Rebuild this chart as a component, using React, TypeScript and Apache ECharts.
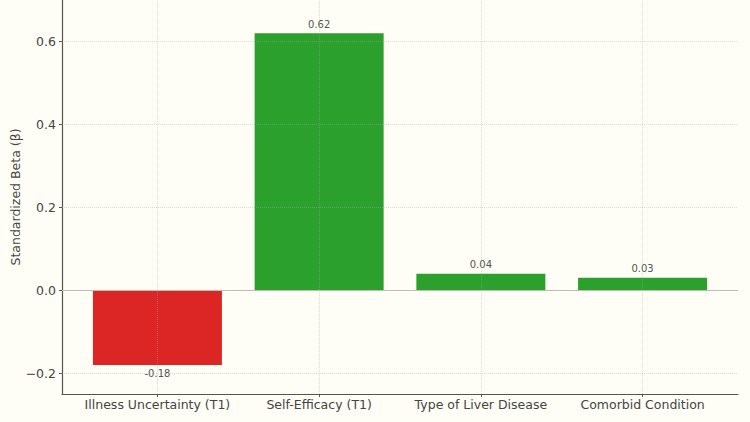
import React, { useEffect, useRef } from "react";
import * as echarts from "echarts";

const categories = [
  "Illness Uncertainty (T1)",
  "Self-Efficacy (T1)",
  "Type of Liver Disease",
  "Comorbid Condition",
];
const betas = [-0.18, 0.62, 0.04, 0.03];
const yTicks = [-0.2, 0, 0.2, 0.4, 0.6];
const xTicks = [0, 1, 2, 3];

const RED = "#dc2626";
const GREEN = "#2ca02c";

export default function App() {
  const ref = useRef<HTMLDivElement>(null);
  useEffect(() => {
    document.body.style.margin = "0";
    if (!ref.current) return;
    const chart = echarts.init(ref.current, null, { renderer: "svg" });
    const font = "DejaVu Sans";
    const gridLine = { type: "dotted", color: "#a8a8a8", width: 1, opacity: 0.4 };
    chart.setOption({
      animation: false,
      backgroundColor: "#fffef6",
      textStyle: { fontFamily: font },
      grid: { left: 62, right: 12, top: 0, bottom: 28, containLabel: false, outerBoundsMode: "none" },
      xAxis: {
        type: "value",
        min: -0.59,
        max: 3.59,
        axisLine: { show: true, onZero: false, lineStyle: { color: "#555", width: 1.2 } },
        axisTick: { show: true, customValues: xTicks, length: 3, lineStyle: { color: "#555" } },
        axisLabel: {
          customValues: xTicks,
          formatter: (v: number) => categories[Math.round(v)] ?? "",
          color: "#444",
          fontSize: 12.5,
          fontFamily: font,
          margin: 4,
        },
        splitLine: { show: false },
      },
      yAxis: {
        type: "value",
        min: -0.25,
        max: 0.7,
        name: "Standardized Beta (β)",
        nameLocation: "middle",
        nameGap: 40,
        nameMoveOverlap: false,
        nameTextStyle: { color: "#444", fontSize: 12.5, fontFamily: font },
        axisLine: { show: true, onZero: false, lineStyle: { color: "#555", width: 1.2 } },
        axisTick: { show: true, customValues: yTicks, length: 3, lineStyle: { color: "#555" } },
        axisLabel: {
          customValues: yTicks,
          formatter: (v: number) =>
            v < 0 ? "\u2212" + Math.abs(v).toFixed(1) : v.toFixed(1),
          color: "#444",
          fontSize: 12.5,
          fontFamily: font,
          margin: 6,
        },
        splitLine: { show: false },
      },
      series: [
        {
          type: "bar",
          barWidth: 129,
          data: betas.map((v, i) => ({
            value: [xTicks[i], v],
            itemStyle: { color: v < 0 ? RED : GREEN },
            label: {
              show: true,
              position: v < 0 ? "bottom" : "top",
              distance: 4,
              formatter: v.toFixed(2),
              color: "#555",
              fontSize: 10,
              fontFamily: font,
            },
          })),
          markLine: {
            silent: true,
            symbol: "none",
            label: { show: false },
            lineStyle: gridLine,
            data: [
              ...yTicks.filter((t) => t !== 0).map((t) => ({ yAxis: t })),
              ...xTicks.map((t) => ({ xAxis: t })),
              { yAxis: 0, lineStyle: { type: "solid", color: "#bdbdb8", width: 1.2, opacity: 1 } },
            ],
          },
        },
      ],
    });
    return () => chart.dispose();
  }, []);
  return <div ref={ref} style={{ width: 750, height: 422 }} />;
}
